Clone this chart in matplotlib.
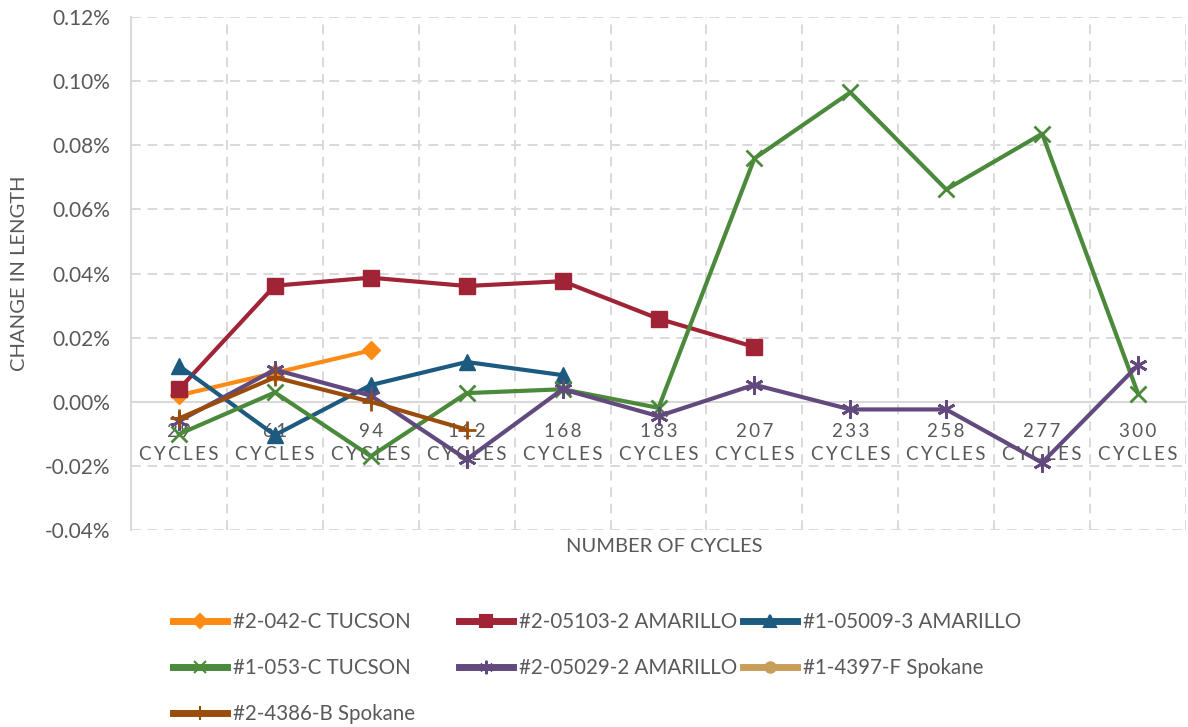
import matplotlib
matplotlib.use("Agg")
import matplotlib.pyplot as plt
from matplotlib.lines import Line2D
import numpy as np

nan = np.nan

# x categories
cycles = ["29", "61", "94", "112", "168", "183", "207", "233", "258", "277", "300"]

# change in length, in percent
tucson_042c = [0.002, 0.009, 0.016, nan, nan, nan, nan, nan, nan, nan, nan]
amarillo_05103 = [0.0039, 0.0362, 0.0387, 0.0361, 0.0376, 0.0259, 0.0171, nan, nan, nan, nan]
amarillo_05009 = [0.0112, -0.0104, 0.0052, 0.0124, 0.0083, nan, nan, nan, nan, nan, nan]
tucson_053c = [-0.0101, 0.0029, -0.0170, 0.0027, 0.0039, -0.0019, 0.0759, 0.0965, 0.0662, 0.0836, 0.0025]
amarillo_05029 = [-0.0060, 0.0100, 0.0019, -0.0180, 0.0039, -0.0045, 0.0053, -0.0024, -0.0024, -0.0190, 0.0114]
spokane_4397 = [nan] * 11
spokane_4386 = [-0.0052, 0.0076, 0.0000, -0.0087, nan, nan, nan, nan, nan, nan, nan]

series = [
    ("#2-042-C TUCSON", tucson_042c, "#fd8a14", "D", 9),
    ("#2-05103-2 AMARILLO", amarillo_05103, "#a02336", "s", 11),
    ("#1-05009-3 AMARILLO", amarillo_05009, "#1d5a80", "^", 11),
    ("#1-053-C TUCSON", tucson_053c, "#4b8a3b", "x", 11),
    ("#2-05029-2 AMARILLO", amarillo_05029, "#634a7e", (6, 2, 0), 13),
    ("#1-4397-F Spokane", spokane_4397, "#c89e5a", "o", 10),
    ("#2-4386-B Spokane", spokane_4386, "#9a4d0b", "+", 13),
]

grey = "#595959"
gridc = "#d9d9d9"
plt.rcParams['font.family'] = ['Lato', 'DejaVu Sans']

fig = plt.figure(figsize=(11.88, 7.27), dpi=100)
ax = fig.add_axes([131/1188, 1 - 530/727, (1186 - 131)/1188, (530 - 17)/727])

# move the category axis to y=0 first (this resets the ticks)
for s in ("top", "right"):
    ax.spines[s].set_visible(False)
ax.spines['left'].set_color(gridc)
ax.spines['left'].set_linewidth(1.5)
ax.spines['bottom'].set_position(('data', 0))
ax.spines['bottom'].set_color(gridc)
ax.spines['bottom'].set_linewidth(1.5)

x = np.arange(len(cycles))
handles = []
for name, vals, col, mk, ms in series:
    ax.plot(x, vals, color=col, lw=3, marker=mk, markersize=ms,
            markeredgewidth=2 if mk in ("x", "+", (6, 2, 0)) else 1,
            markerfacecolor=col, markeredgecolor=col, zorder=3)
    handles.append(Line2D([], [], color=col, lw=5, marker=mk, markersize=ms * 0.75,
                          markeredgewidth=1.5, markerfacecolor=col, markeredgecolor=col))

ax.set_xlim(-0.5, len(cycles) - 0.5)
ax.set_ylim(-0.04, 0.12)
ax.set_yticks(np.arange(-0.04, 0.121, 0.02))
ax.set_yticklabels(["%.2f%%" % v for v in np.arange(-0.04, 0.121, 0.02)])

ax.tick_params(axis='y', length=0, labelsize=15, labelcolor=grey, pad=15)
ax.tick_params(axis='x', which='both', length=0, pad=15, labelsize=13.5, labelcolor=grey)

sp = "\u2009"
ax.set_xticks(x)
ax.set_xticklabels([sp.join(c) + "\n" + sp.join("CYCLES") for c in cycles],
                   fontsize=13.5, color=grey, linespacing=1.45)
ax.set_xticks(np.arange(0.5, len(cycles), 1.0), minor=True)

ax.grid(axis='y', which='major', color=gridc, lw=1.4, ls=(0, (5, 3.5)))
ax.grid(axis='x', which='minor', color=gridc, lw=1.4, ls=(0, (5, 3.5)))
ax.set_axisbelow(True)

ax.set_ylabel("CHANGE IN LENGTH", fontsize=14.5, color=grey)
ax.yaxis.set_label_coords(-0.098, 0.5)
fig.text(664/1188, 1 - 547/727, "NUMBER OF CYCLES", fontsize=14.5, color=grey,
         ha='center', va='center')

# legend in three separate columns
cols = [([0, 3, 6], 173), ([1, 4], 459), ([2, 5], 743)]
for idx, xpix in cols:
    fig.legend([handles[i] for i in idx], [series[i][0] for i in idx],
               loc='upper left', bbox_to_anchor=(xpix/1188, 1 - 612/727),
               frameon=False, fontsize=14.8, labelcolor=grey,
               handlelength=2.65, handletextpad=0.25, labelspacing=1.26,
               borderaxespad=0, borderpad=0)

fig.savefig("out.png", dpi=100)
